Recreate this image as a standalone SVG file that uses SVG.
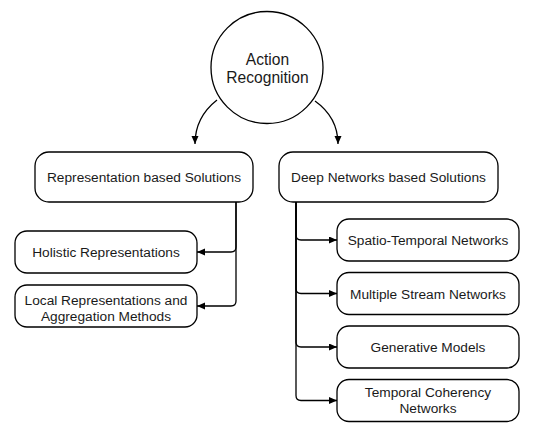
<svg xmlns="http://www.w3.org/2000/svg" width="538" height="434" viewBox="0 0 538 434">
<style>
.n{fill:#fff;stroke:#000;stroke-width:1.3}
.t{font-family:"Liberation Sans",Arial,sans-serif;font-size:13.7px;fill:#1a1a1a;text-anchor:middle}
.tc{font-family:"Liberation Sans",Arial,sans-serif;font-size:15.6px;fill:#1a1a1a;text-anchor:middle}
.e{fill:none;stroke:#000;stroke-width:1.3}
</style>
<defs>
<marker id="ah" markerUnits="userSpaceOnUse" markerWidth="9" markerHeight="8" refX="8" refY="3.5" orient="auto">
<path d="M0,0 L8,3.5 L0,7 z" fill="#000"/>
</marker>
</defs>
<rect width="538" height="434" fill="#fff"/>
<g id="connectors">
<path class="e" d="M217,100 C203,111 195,125 195,144" marker-end="url(#ah)"/>
<path class="e" d="M315,101 C329,111 338,125 338,144" marker-end="url(#ah)"/>
<path class="e" d="M236,202 V247 Q236,252 231,252 H197" marker-end="url(#ah)"/>
<path class="e" d="M236,202 V301 Q236,306 231,306 H197" marker-end="url(#ah)"/>
<path class="e" d="M296,202 V235 Q296,240 301,240 H337" marker-end="url(#ah)"/>
<path class="e" d="M296,202 V288.5 Q296,293.5 301,293.5 H337" marker-end="url(#ah)"/>
<path class="e" d="M296,202 V342 Q296,347 301,347 H337" marker-end="url(#ah)"/>
<path class="e" d="M296,202 V395.5 Q296,400.5 301,400.5 H337" marker-end="url(#ah)"/>
</g>
<g id="action-recognition">
<circle class="n" cx="267" cy="67.5" r="56"/>
<text class="tc" x="267.5" y="65">Action</text>
<text class="tc" x="267.5" y="82.5">Recognition</text>
</g>
<g id="representation-based">
<rect class="n" x="35" y="152" width="218" height="50" rx="14"/>
<text class="t" x="144" y="182">Representation based Solutions</text>
</g>
<g id="deep-networks-based">
<rect class="n" x="279" y="152" width="219" height="50" rx="14"/>
<text class="t" x="388.5" y="182">Deep Networks based Solutions</text>
</g>
<g id="holistic">
<rect class="n" x="15" y="231" width="182" height="42" rx="12"/>
<text class="t" x="106" y="257">Holistic Representations</text>
</g>
<g id="local">
<rect class="n" x="15" y="285" width="182" height="42" rx="12"/>
<text class="t" x="106" y="305">Local Representations and</text>
<text class="t" x="106" y="320.5">Aggregation Methods</text>
</g>
<g id="spatio-temporal">
<rect class="n" x="337" y="219" width="182" height="42" rx="12"/>
<text class="t" x="428" y="245">Spatio-Temporal Networks</text>
</g>
<g id="multiple-stream">
<rect class="n" x="337" y="272.5" width="182" height="42" rx="12"/>
<text class="t" x="428" y="298.5">Multiple Stream Networks</text>
</g>
<g id="generative">
<rect class="n" x="337" y="326" width="182" height="42" rx="12"/>
<text class="t" x="428" y="352">Generative Models</text>
</g>
<g id="temporal-coherency">
<rect class="n" x="337" y="379.5" width="182" height="42" rx="12"/>
<text class="t" x="428" y="397">Temporal Coherency</text>
<text class="t" x="428" y="412.5">Networks</text>
</g>
</svg>
